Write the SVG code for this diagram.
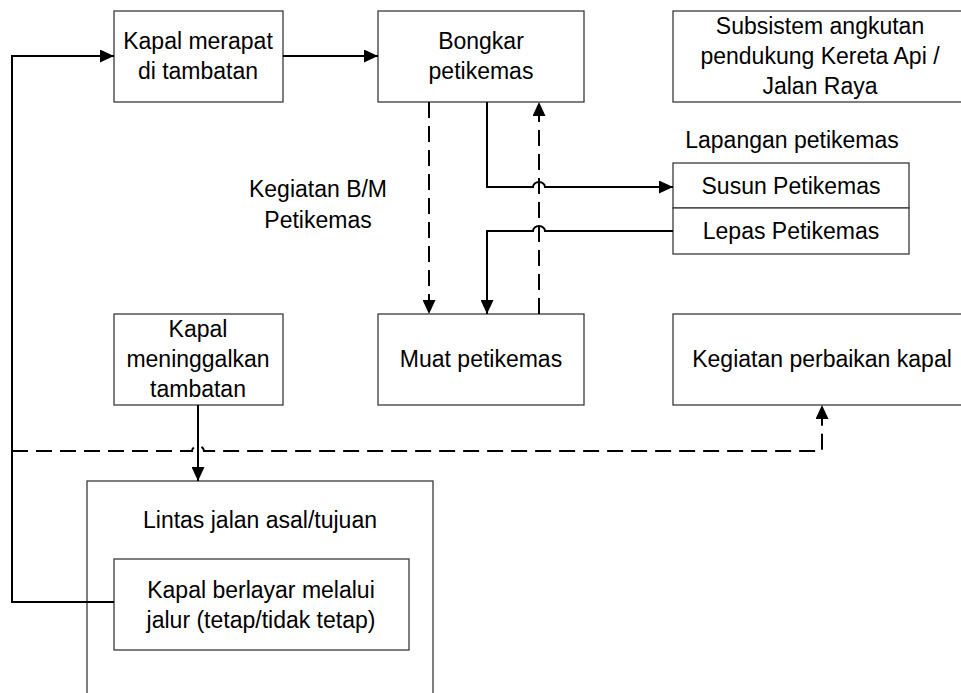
<svg xmlns="http://www.w3.org/2000/svg" width="961" height="693" viewBox="0 0 961 693">
<style>
.box{fill:#fff;stroke:#3a3a3a;stroke-width:1.3}
.t{font-family:"Liberation Sans",Arial,sans-serif;font-size:23px;fill:#000;text-anchor:middle}
.c{fill:none;stroke:#000;stroke-width:2}
.d{stroke-dasharray:16 8}
</style>
<defs>
<marker id="ah" markerUnits="userSpaceOnUse" markerWidth="14" markerHeight="13" refX="14" refY="6.5" orient="auto">
<path d="M0,0 L14,6.5 L0,13 z" fill="#000" stroke="none"/>
</marker>
</defs>
<rect width="961" height="693" fill="#fff"/>
<g id="kapal-merapat">
<rect class="box" x="114" y="11" width="169" height="91"/>
<text class="t" x="198" y="49">Kapal merapat</text>
<text class="t" x="198" y="79">di tambatan</text>
</g>
<g id="bongkar">
<rect class="box" x="378" y="11" width="206" height="91"/>
<text class="t" x="481" y="49">Bongkar</text>
<text class="t" x="481" y="79">petikemas</text>
</g>
<g id="subsistem">
<rect class="box" x="673" y="11" width="298" height="91"/>
<text class="t" x="820" y="34">Subsistem angkutan</text>
<text class="t" x="820" y="64">pendukung Kereta Api /</text>
<text class="t" x="820" y="94">Jalan Raya</text>
</g>
<g id="lapangan">
<text class="t" x="792" y="148">Lapangan petikemas</text>
</g>
<g id="susun">
<rect class="box" x="673" y="163" width="236" height="45"/>
<text class="t" x="791" y="194">Susun Petikemas</text>
</g>
<g id="lepas">
<rect class="box" x="673" y="208" width="236" height="46"/>
<text class="t" x="791" y="239">Lepas Petikemas</text>
</g>
<g id="kegiatan-bm">
<text class="t" x="318" y="197">Kegiatan B/M</text>
<text class="t" x="318" y="228">Petikemas</text>
</g>
<g id="kapal-meninggalkan">
<rect class="box" x="114" y="314" width="169" height="91"/>
<text class="t" x="198" y="337">Kapal</text>
<text class="t" x="198" y="367">meninggalkan</text>
<text class="t" x="198" y="397">tambatan</text>
</g>
<g id="muat">
<rect class="box" x="378" y="314" width="206" height="91"/>
<text class="t" x="481" y="367">Muat petikemas</text>
</g>
<g id="perbaikan">
<rect class="box" x="673" y="314" width="298" height="91"/>
<text class="t" x="822" y="367">Kegiatan perbaikan kapal</text>
</g>
<g id="lintas">
<rect class="box" x="87" y="481" width="346" height="240"/>
<text class="t" x="260" y="528">Lintas jalan asal/tujuan</text>
</g>
<g id="kapal-berlayar">
<rect class="box" x="114" y="559" width="295" height="91"/>
<text class="t" x="261" y="598">Kapal berlayar melalui</text>
<text class="t" x="261" y="628">jalur (tetap/tidak tetap)</text>
</g>
<g id="connectors">
<path class="c" d="M114,602 H12 V56 H114" marker-end="url(#ah)"/>
<path class="c" d="M283,56 H378" marker-end="url(#ah)"/>
<path class="c d" d="M429,102 V314" marker-end="url(#ah)"/>
<path class="c" d="M487,102 V187 H533 A6,5 0 0 1 545,187 H673" marker-end="url(#ah)"/>
<path class="c" d="M673,231 H545 A6,5 0 0 0 533,231 H487 V314" marker-end="url(#ah)"/>
<path class="c d" d="M539,314 V102" marker-end="url(#ah)"/>
<path class="c" d="M198,405 V481" marker-end="url(#ah)"/>
<path class="c d" d="M12,451 H192 A6,5 0 0 1 204,451 H822 V405" marker-end="url(#ah)"/>
</g>
</svg>
